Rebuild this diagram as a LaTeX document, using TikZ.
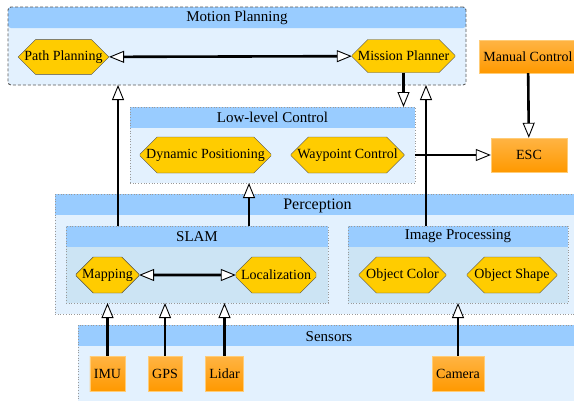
\documentclass[tikz,border=0pt]{standalone}
\usepackage{fontspec}
\setmainfont{Liberation Serif}
\usetikzlibrary{shapes.misc,arrows.meta}
\definecolor{headblue}{HTML}{99CCFF}
\definecolor{paleblue}{HTML}{E3F1FE}
\definecolor{midblue}{HTML}{CCE4F4}
\definecolor{octyellow}{HTML}{FFCC00}
\definecolor{boxtop}{HTML}{FFB444}
\definecolor{boxbot}{HTML}{FF9900}
\definecolor{boxline}{HTML}{FFCC77}
\begin{document}
\begin{tikzpicture}[x=1pt,y=-1pt,font=\fontsize{14}{16}\selectfont,
  >={Triangle[fill=white,length=15pt,width=12pt,line width=0.9pt]}]
\tikzstyle{cluster}=[fill=paleblue, inner sep=0pt, outer sep=0pt,
  path picture={\fill[headblue] (path picture bounding box.north west) rectangle ([yshift=-21pt]path picture bounding box.north east);},
  postaction={draw=gray!80, line width=0.7pt, dotted}]
\tikzstyle{outer}=[fill=paleblue, inner sep=0pt, outer sep=0pt, rounded corners=3pt,
  path picture={\fill[headblue] (path picture bounding box.north west) rectangle ([yshift=-21pt]path picture bounding box.north east);},
  postaction={draw=black!65, line width=0.9pt, dash pattern=on 3pt off 2pt}]
\tikzstyle{title}=[font=\fontsize{15}{17}\selectfont, inner sep=0pt]
\tikzstyle{task}=[chamfered rectangle, chamfered rectangle sep=11pt,
  draw=black!70, fill=octyellow, minimum height=36pt, inner xsep=0pt, inner ysep=0pt]
\tikzstyle{device}=[draw=boxline, top color=boxtop, bottom color=boxbot, minimum height=35pt, inner xsep=4pt]
\tikzstyle{flow}=[line width=2.6pt, ->]
\tikzstyle{flowboth}=[line width=2.6pt, <->]
\clip (0,0) rectangle (574,400);

% groups
\node[outer, minimum width=458pt, minimum height=78pt] (motion) at (237,46) {};
\node[title] (motiont) at ([yshift=-11pt]motion.north) {Motion Planning};
\node[cluster, minimum width=285pt, minimum height=76pt] (low) at (272.5,145) {};
\node[title] (lowt) at ([yshift=-10.5pt]low.north) {Low-level Control};
\node[cluster, minimum width=525pt, minimum height=120pt] (percep) at (317.5,254) {};
\node[title, font=\fontsize{16}{18}\selectfont] (percept) at ([yshift=-11.5pt]percep.north) {Perception};
\node[cluster, fill=midblue, minimum width=262pt, minimum height=77pt] (slam) at (197,264.5) {};
\node[title] (slamt) at ([yshift=-10.5pt]slam.north) {SLAM};
\node[cluster, fill=midblue, minimum width=220pt, minimum height=77pt] (imgproc) at (458,264.5) {};
\node[title] (imgproct) at ([yshift=-10.5pt]imgproc.north) {Image Processing};
\node[cluster, minimum width=502pt, minimum height=100pt] (sensors) at (329,375) {};
\node[title] (sensorst) at ([yshift=-12pt]sensors.north) {Sensors};

% tasks
\node[task, minimum width=89pt, minimum height=31pt] (path) at (63.5,57) {Path Planning};
\node[task, minimum width=103pt, minimum height=33pt] (mission) at (403.5,56) {Mission Planner};
\node[task, minimum width=129pt] (dynpos) at (205.5,155) {Dynamic Positioning};
\node[task, minimum width=113pt] (waypoint) at (347.5,155) {Waypoint Control};
\node[task, minimum width=61pt] (mapping) at (107.5,275) {Mapping};
\node[task, minimum width=80pt] (localization) at (276,275) {Localization};
\node[task, minimum width=87pt] (objcolor) at (402.5,275) {Object Color};
\node[task, minimum width=90pt] (objshape) at (512,275) {Object Shape};

% devices
\node[device, minimum width=97pt, minimum height=33pt] (manual) at (528,56.5) {Manual Control};
\node[device, minimum width=76pt, minimum height=34pt] (esc) at (529,155) {ESC};
\node[device] (imu) at (107.5,373.5) {IMU};
\node[device] (gps) at (165,373.5) {GPS};
\node[device] (lidar) at (224.5,373.5) {Lidar};
\node[device] (camera) at (458,373.5) {Camera};

\coordinate (slamup) at ([xshift=52pt]slam.north west);
\coordinate (slamlow) at ([xshift=183pt]slam.north west);
\coordinate (imgup) at ([xshift=78pt]imgproc.north west);

\draw[flowboth] (path) -- (mission);
\draw[flow] (mission) -- (mission |- low.north);
\draw[flow] (manual) -- (esc);
\draw[flow] (low.east |- waypoint) -- (esc);
\draw[flow] (slamup) -- (slamup |- motion.south);
\draw[flow] (slamlow) -- (slamlow |- low.south);
\draw[flow] (imgup) -- (imgup |- motion.south);
\draw[flowboth] (mapping) -- (localization);
\draw[flow] (imu) -- (imu |- slam.south);
\draw[flow] (gps) -- (gps |- slam.south);
\draw[flow] (lidar) -- (lidar |- slam.south);
\draw[flow] (camera) -- (camera |- imgproc.south);
\end{tikzpicture}
\end{document}
